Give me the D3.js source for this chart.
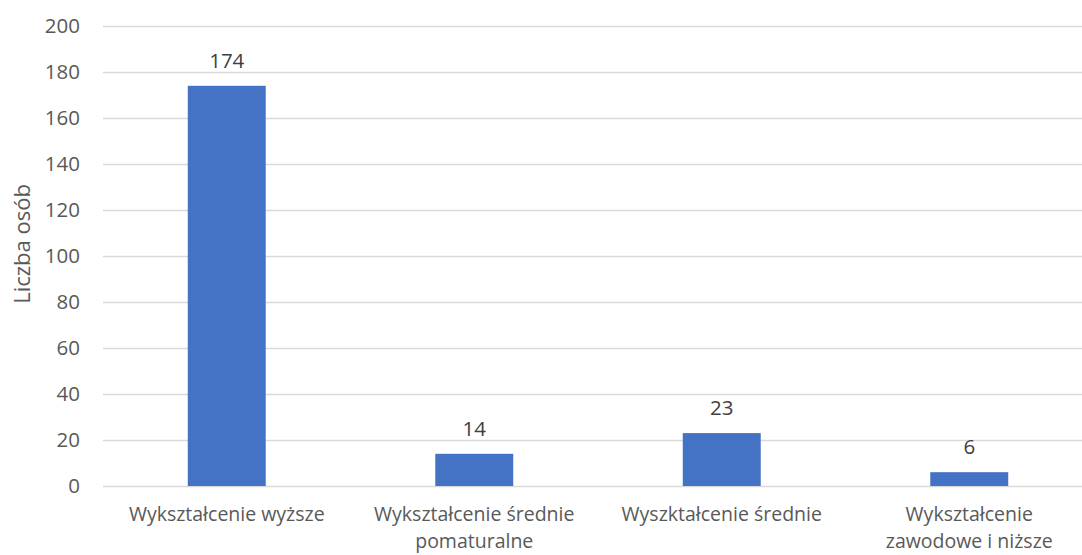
<!DOCTYPE html>
<html>
<head>
<meta charset="utf-8">
<script src="https://cdn.jsdelivr.net/npm/d3@7"></script>
<style>
  html, body { margin: 0; padding: 0; background: #fff; }
  svg text { font-family: "Open Sans", Lato, sans-serif; fill: #595959; }
</style>
</head>
<body>
<div id="chart"></div>
<script>
(() => {
  "use strict";

  const categories = [
    ["Wykształcenie wyższe"],
    ["Wykształcenie średnie", "pomaturalne"],
    ["Wyszktałcenie średnie"],
    ["Wykształcenie", "zawodowe i niższe"]
  ];
  const values = [174, 14, 23, 6];
  const yTicks = [0, 20, 40, 60, 80, 100, 120, 140, 160, 180, 200];
  const yTitle = "Liczba osób";

  const width = 1082, height = 555;
  const fs = "20.5px";
  const svg = d3.select("#chart").append("svg")
    .attr("width", width).attr("height", height);

  const x = d3.scaleBand().domain(d3.range(categories.length)).range([103, 1093]).padding(0);
  const y = d3.scaleLinear().domain([0, 200]).range([486, 26]);
  const barW = x.bandwidth() * 0.315;

  // gridlines
  svg.append("g").selectAll("line").data(yTicks).join("line")
    .attr("x1", 103).attr("x2", width)
    .attr("y1", d => Math.round(y(d)) + 0.5).attr("y2", d => Math.round(y(d)) + 0.5)
    .attr("stroke", "#d9d9d9").attr("stroke-width", 1.5);

  // y tick labels
  svg.append("g").selectAll("text").data(yTicks).join("text")
    .attr("x", 80).attr("y", d => y(d))
    .attr("dy", "0.35em").attr("text-anchor", "end")
    .style("font-size", fs)
    .text(d => d);

  svg.append("text")
    .attr("transform", `translate(30,244) rotate(-90)`)
    .attr("text-anchor", "middle")
    .style("font-size", "22px")
    .text(yTitle);

  // bars
  svg.append("g").selectAll("rect").data(values).join("rect")
    .attr("x", (d, i) => x(i) + x.bandwidth() / 2 - barW / 2)
    .attr("width", barW)
    .attr("y", d => y(d))
    .attr("height", d => y(0) - y(d))
    .attr("fill", "#4472c4");

  // data labels
  svg.append("g").selectAll("text").data(values).join("text")
    .attr("x", (d, i) => x(i) + x.bandwidth() / 2)
    .attr("y", d => y(d) - 18)
    .attr("text-anchor", "middle")
    .style("font-size", fs)
    .style("fill", "#404040")
    .text(d => d);

  // category labels (one text per line)
  const cat = svg.append("g").selectAll("g").data(categories).join("g")
    .attr("transform", (d, i) => `translate(${x(i) + x.bandwidth() / 2},0)`);
  cat.selectAll("text").data(d => d).join("text")
    .attr("x", 0)
    .attr("y", (d, i) => 521 + i * 27)
    .attr("text-anchor", "middle")
    .style("font-size", "19.5px")
    .text(d => d);
})();
</script>
</body>
</html>
